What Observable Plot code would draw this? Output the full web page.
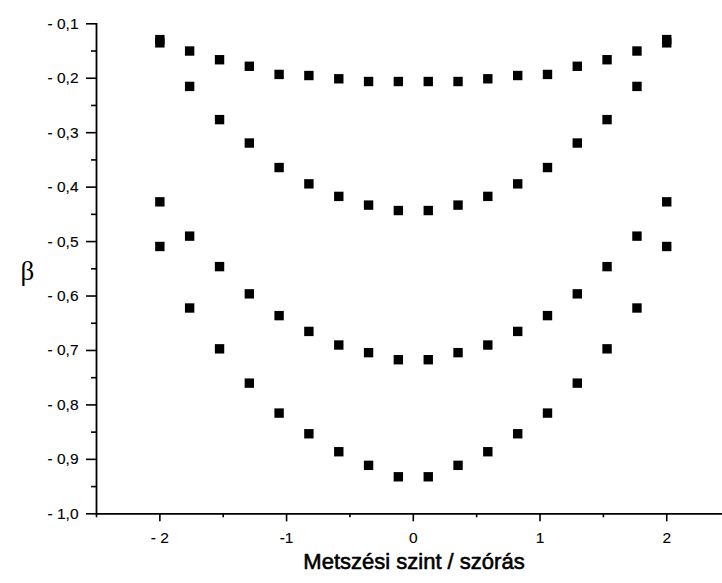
<!DOCTYPE html>
<html>
<head>
<meta charset="utf-8">
<script src="https://cdn.jsdelivr.net/npm/d3@7"></script>
<script src="https://cdn.jsdelivr.net/npm/@observablehq/plot@0.6"></script>
<style>
  html, body { margin: 0; padding: 0; background: #fff; }
  #chart svg { display: block; }
</style>
</head>
<body>
<div id="chart"></div>
<script>
// Data
const xs = [-2, -1.765, -1.529, -1.294, -1.059, -0.824, -0.588, -0.353, -0.118,
            0.118, 0.353, 0.588, 0.824, 1.059, 1.294, 1.529, 1.765, 2];
const s1 = [-0.135, -0.150, -0.166, -0.178, -0.193, -0.195, -0.201, -0.206, -0.206,
            -0.206, -0.206, -0.201, -0.195, -0.193, -0.178, -0.166, -0.150, -0.135];
const s2 = [-0.129, -0.215, -0.276, -0.319, -0.364, -0.394, -0.417, -0.433, -0.443,
            -0.443, -0.433, -0.417, -0.394, -0.364, -0.319, -0.276, -0.215, -0.129];
const s3 = [-0.427, -0.490, -0.546, -0.596, -0.636, -0.665, -0.690, -0.704, -0.717,
            -0.717, -0.704, -0.690, -0.665, -0.636, -0.596, -0.546, -0.490, -0.427];
const s4 = [-0.509, -0.622, -0.697, -0.760, -0.815, -0.853, -0.886, -0.911, -0.932,
            -0.932, -0.911, -0.886, -0.853, -0.815, -0.760, -0.697, -0.622, -0.509];

const yMajorTicks = [-1.0, -0.9, -0.8, -0.7, -0.6, -0.5, -0.4, -0.3, -0.2, -0.1];
const yMinorTicks = [-0.95, -0.85, -0.75, -0.65, -0.55, -0.45, -0.35, -0.25, -0.15];
const xMajorTicks = [-2, -1, 0, 1, 2];
const xMinorTicks = [-2.5, -1.5, -0.5, 0.5, 1.5];
const xTickLabels = {"-2": "- 2", "-1": "-1", "0": "0", "1": "1", "2": "2"};
const xTitle = "Metszési szint / szórás";
const yTitle = "β";

const rows = [];
[s1, s2, s3, s4].forEach((s, k) => s.forEach((v, i) => rows.push({x: xs[i], y: v, series: k + 1})));

const yFmt = d => d3.format(".1f")(d).replace("−", "-").replace("-", "- ").replace(".", ",");

const chart = Plot.plot({
  width: 722,
  height: 583,
  marginTop: 23.3,
  marginBottom: 69.7,
  marginLeft: 96,
  marginRight: 0,
  style: {fontFamily: "'Liberation Sans', Arial, sans-serif", background: "#fff", color: "#000", overflow: "visible"},
  x: {domain: [-2.5, 2.44], label: null},
  y: {domain: [-1.0, -0.1], label: null},
  marks: [
    Plot.axisY(yMajorTicks, {tickSize: 10, tickPadding: 8, strokeWidth: 1.6, fontSize: 15.5, tickFormat: yFmt, label: null,
      textStroke: "#000", textStrokeWidth: 0.12}),
    Plot.axisY(yMinorTicks, {tickSize: 5, strokeWidth: 1.6, tickFormat: () => "", label: null}),
    Plot.axisX(xMajorTicks, {tickSize: 8, tickPadding: 10, strokeWidth: 1.6, fontSize: 15.5, tickFormat: d => xTickLabels[String(d)], label: null,
      textStroke: "#000", textStrokeWidth: 0.12}),
    Plot.axisX(xMinorTicks, {tickSize: 4, strokeWidth: 1.6, tickFormat: () => "", label: null}),
    Plot.frame({anchor: "left", strokeWidth: 1.8}),
    Plot.frame({anchor: "bottom", strokeWidth: 1.8}),
    Plot.dot(rows, {x: "x", y: "y", symbol: "square", r: 5.3, fill: "#000", stroke: "none"}),
    Plot.text([xTitle], {frameAnchor: "bottom", text: d => d, dy: 55, dx: 4.5, fontSize: 22, letterSpacing: 1, fill: "#000",
      stroke: "#000", strokeWidth: 0.6}),
    Plot.text([yTitle], {frameAnchor: "left", text: d => d, dx: -76, dy: 3, fontSize: 27, fontFamily: "'Liberation Serif', 'DejaVu Serif', serif", fill: "#000"})
  ]
});
document.getElementById("chart").appendChild(chart);
</script>
</body>
</html>
